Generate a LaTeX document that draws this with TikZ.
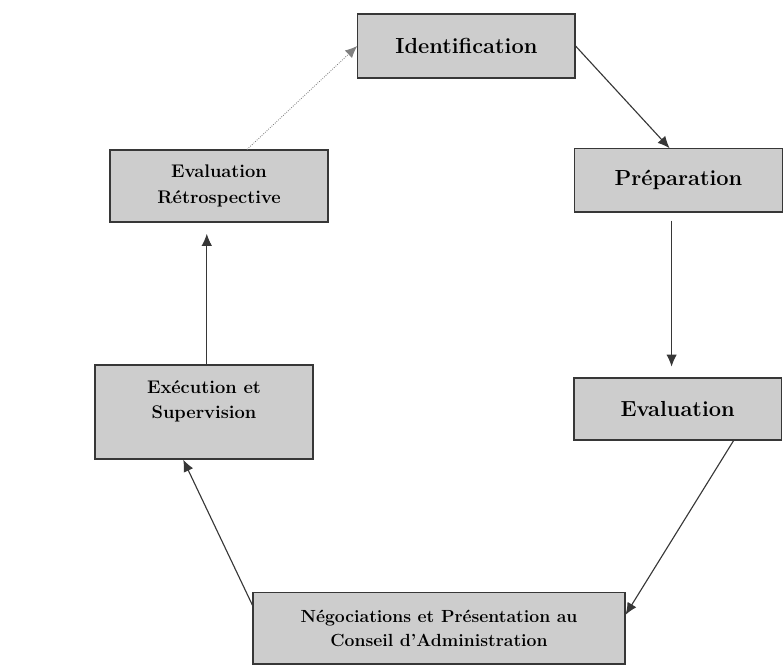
\documentclass[tikz,border=0pt]{standalone}
\usepackage{amsmath}
\usepackage{xcolor}
\usetikzlibrary{arrows, arrows.meta}
\usetikzlibrary{calc}

\definecolor{boxgray}{RGB}{205,205,205}
\definecolor{edgegray}{RGB}{55,55,55}

\tikzset{
  etape/.style={rectangle, draw=edgegray, line width=0.8pt, fill=boxgray, align=center, inner sep=2pt},
  grand/.style={font=\fontsize{15.5}{18}\selectfont\bfseries},
  petit/.style={font=\fontsize{13}{18}\selectfont\bfseries},
  fleche/.style={draw=edgegray, line width=0.8pt, -{Latex[length=3mm, width=2.6mm]}}
}

\begin{document}
\begin{tikzpicture}
      \useasboundingbox (0,0) rectangle (19.575,-16.65);

      \node[etape, grand, minimum width=5.43cm, minimum height=1.6cm] (ident) at (11.66,-1.15) {Identification};
      \node[etape, grand, minimum width=5.2cm, minimum height=1.58cm] (prep) at (16.96,-4.51) {Préparation};
      \node[etape, grand, minimum width=5.18cm, minimum height=1.55cm] (eval) at (16.94,-10.225) {Evaluation};
      \node[etape, petit, font=\fontsize{12.5}{17}\selectfont\bfseries, minimum width=9.3cm, minimum height=1.78cm] (nego) at (10.975,-15.71) {Négociations et Présentation au\\Conseil d'Administration};
      \node[etape, petit, minimum width=5.45cm, minimum height=2.35cm, text depth=0.63cm] (exec) at (5.1,-10.3) {Exécution et\\Supervision};
      \node[etape, petit, minimum width=5.45cm, minimum height=1.8cm] (retro) at (5.475,-4.65) {Evaluation\\Rétrospective};

      \draw[fleche] (ident.east) -- ([xshift=-0.22cm]prep.north);
      \draw[fleche, shorten <=0.2cm, shorten >=0.27cm] ([xshift=-0.17cm]prep.south) -- ([xshift=-0.17cm]prep.south |- eval.north);
      \draw[fleche] ([xshift=1.4cm]eval.south) -- ([yshift=0.34cm]nego.east);
      \draw[fleche] ([yshift=0.58cm]nego.west) -- ([xshift=-0.52cm]exec.south);
      \draw[fleche, shorten >=0.28cm] ([xshift=0.07cm]exec.north) -- ([xshift=0.07cm]exec.north |- retro.south);
      \draw[fleche, draw=gray, line width=0.6pt, densely dotted] ([xshift=0.7cm]retro.north) -- (ident.west);
    \end{tikzpicture}
\end{document}
